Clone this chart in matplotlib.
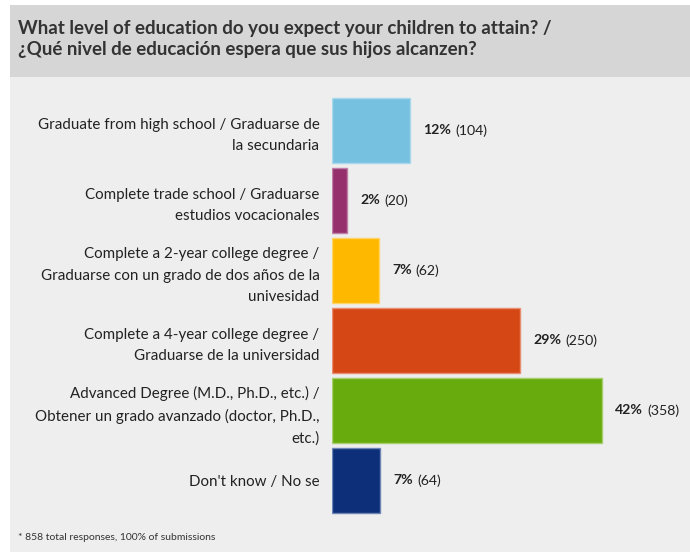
import matplotlib
matplotlib.use("Agg")
import matplotlib.pyplot as plt
from matplotlib.patches import Rectangle

plt.rcParams['font.family'] = ['Lato', 'DejaVu Sans']

title = ("What level of education do you expect your children to attain? /\n"
         "¿Qué nivel de educación espera que sus hijos alcanzen?")
categories = [
    "Graduate from high school / Graduarse de\nla secundaria",
    "Complete trade school / Graduarse\nestudios vocacionales",
    "Complete a 2-year college degree /\nGraduarse con un grado de dos años de la\nunivesidad",
    "Complete a 4-year college degree /\nGraduarse de la universidad",
    "Advanced Degree (M.D., Ph.D., etc.) /\nObtener un grado avanzado (doctor, Ph.D.,\netc.)",
    "Don't know / No se",
]
counts = [104, 20, 62, 250, 358, 64]
percents = [12, 2, 7, 29, 42, 7]
colors = ["#77c1e0", "#95306d", "#ffb800", "#d64716", "#68ab0c", "#0d2f7a"]
edge_colors = ["#a9d8ec", "#c07fa6", "#ffd466", "#e88d70", "#a5cf6b", "#6c85b5"]
footnote = "* 858 total responses, 100% of submissions"

W, H = 690, 552
fig = plt.figure(figsize=(W / 100, H / 100), dpi=100)
fig.patch.set_facecolor("white")


def fx(x):
    return x / W


def fy(y):
    return 1 - y / H


# panel backgrounds
fig.patches.append(Rectangle((fx(10), fy(552)), fx(680), (552 - 77) / H,
                             transform=fig.transFigure, facecolor="#eeeeee",
                             edgecolor="none", zorder=-2))
fig.patches.append(Rectangle((fx(10), fy(77)), fx(680), (77 - 5) / H,
                             transform=fig.transFigure, facecolor="#d6d6d6",
                             edgecolor="none", zorder=-2))

fig.text(fx(18), fy(39), title, ha="left", va="center", fontsize=13.5,
         fontweight="bold", color="#333333", linespacing=1.33)
fig.text(fx(18), fy(537), footnote, ha="left", va="center", fontsize=7.45,
         color="#333333")

# bar area
left, right, top, bottom = 332, 690, 95.5, 515.5
ax = fig.add_axes([fx(left), fy(bottom), fx(right - left), (bottom - top) / H])
ax.set_facecolor("none")
ypos = list(range(len(categories)))
ax.barh(ypos, counts, height=0.93, color=colors, edgecolor=edge_colors,
        linewidth=1.0)
ax.set_xlim(0, 475)
ax.set_ylim(len(categories) - 0.5, -0.5)
ax.set_yticks(ypos)
ax.set_yticklabels(categories, fontsize=10.9, color="#222222",
                   linespacing=1.66)
ax.tick_params(axis="y", length=0, pad=9)
ax.set_xticks([])
for s in ax.spines.values():
    s.set_visible(False)

for y, c, p in zip(ypos, counts, percents):
    t = ax.annotate(f"{p}%", xy=(c, y), xytext=(9.5, 0),
                    textcoords="offset points", ha="left", va="center",
                    fontsize=10.2, fontweight="bold", color="#222222")
    ax.annotate(f"({c})", xy=(1, 0.5), xycoords=t, xytext=(3, 0),
                textcoords="offset points", ha="left", va="center",
                fontsize=10.2, color="#222222")

fig.savefig("out.png", dpi=100, facecolor=fig.get_facecolor())
